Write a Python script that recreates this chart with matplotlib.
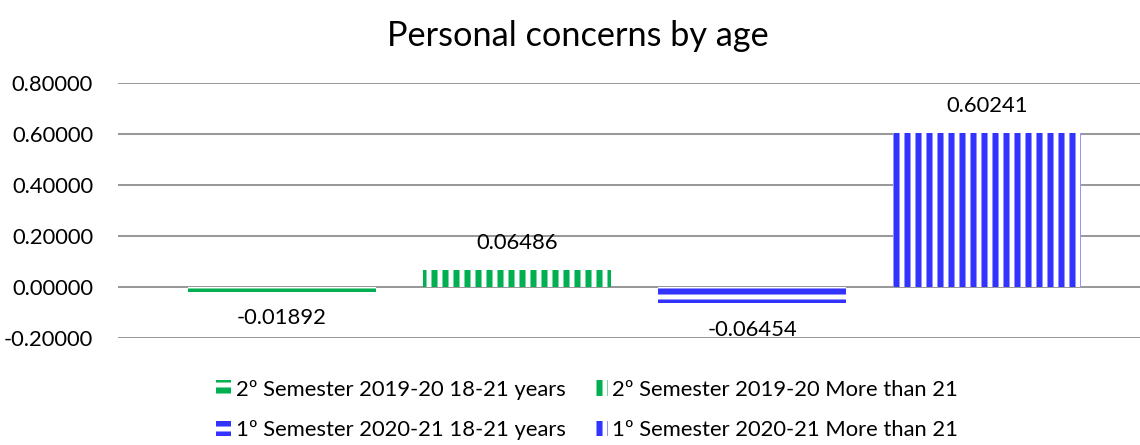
import matplotlib.pyplot as plt

series = ['2º Semester 2019-20 18-21 years', '2º Semester 2019-20 More than 21',
          '1º Semester 2020-21 18-21 years', '1º Semester 2020-21 More than 21']
values = [-0.01892, 0.06486, -0.06454, 0.60241]
colors = ['#00B050', '#00B050', '#3333FF', '#3333FF']
hatches = ['--', '||', '--', '||']
yticks = [-0.2, 0.0, 0.2, 0.4, 0.6, 0.8]

DPI = 132
W, H = 1140, 445
FS = 12
plt.rcParams['font.family'] = ['Lato', 'DejaVu Sans']
plt.rcParams['hatch.linewidth'] = 3.3

fig = plt.figure(figsize=(W / DPI, H / DPI), dpi=DPI)
ax = fig.add_axes([118 / W, 1 - 337.7 / H, 1 - 118 / W, 255 / H])

handles = []
for i, (lab, v, c, h) in enumerate(zip(series, values, colors, hatches)):
    b = ax.bar(i, v, width=0.804, facecolor='white', edgecolor=c, hatch=h,
               linewidth=0, label=lab, zorder=2)
    handles.append(b)
    off = 14.7 if v > 0 else -14.7
    ax.annotate(f'{v:.5f}', xy=(i, v), xytext=(0, off), textcoords='offset points',
                ha='center', va='center', fontsize=FS, color='#000000')

ax.set_xlim(-0.698, 3.651)
ax.set_ylim(-0.2, 0.8)
ax.set_yticks(yticks)
ax.set_yticklabels([f'{t:.5f}' for t in yticks], fontsize=FS)
ax.tick_params(axis='y', length=0, pad=13.6)
ax.set_xticks([])
ax.grid(axis='y', color='#999999', linewidth=1.1, zorder=0)
ax.set_axisbelow(True)
for s in ax.spines.values():
    s.set_visible(False)

fig.text(578 / W, 1 - 36 / H, 'Personal concerns by age', ha='center', va='center',
         fontsize=18.7)

order = [0, 2, 1, 3]
fig.legend([handles[k] for k in order], [series[k] for k in order], ncol=2,
           loc='center', bbox_to_anchor=(587 / W, 1 - 410 / H), frameon=False,
           fontsize=FS, handlelength=0.7, handleheight=0.7, handletextpad=0.2,
           columnspacing=1.2, labelspacing=0.95)

plt.savefig('out.png', dpi=DPI)
